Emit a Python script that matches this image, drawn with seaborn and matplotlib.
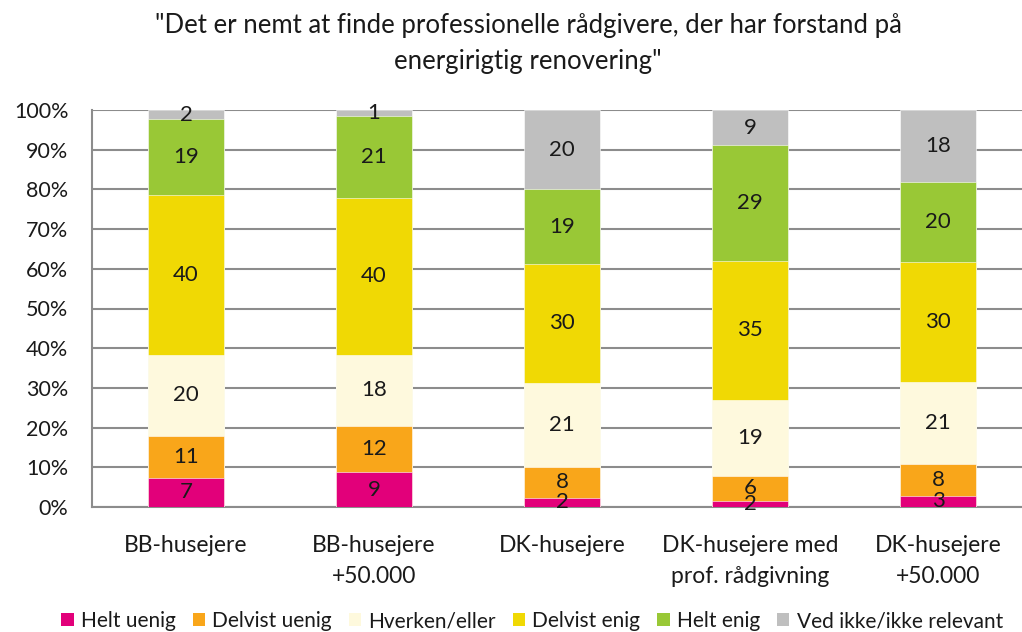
import numpy as np
import pandas as pd
import seaborn as sns
import matplotlib.pyplot as plt
from matplotlib.patches import Patch
from matplotlib.ticker import FixedLocator

# Kategorier og svarfordelinger (procent)
categories = ["BB-husejere", "BB-husejere\n+50.000", "DK-husejere",
              "DK-husejere med\nprof. rådgivning", "DK-husejere\n+50.000"]
answers = ["Helt uenig", "Delvist uenig", "Hverken/eller",
           "Delvist enig", "Helt enig", "Ved ikke/ikke relevant"]

helt_uenig = [7.4, 8.8, 2.3, 1.5, 2.8]
delvist_uenig = [10.6, 11.6, 7.8, 6.4, 8.0]
hverken_eller = [20.3, 17.9, 21.1, 19.1, 20.6]
delvist_enig = [40.4, 39.6, 30.1, 35.0, 30.3]
helt_enig = [19.0, 20.7, 18.7, 29.1, 20.2]
ved_ikke = [2.3, 1.4, 20.0, 8.9, 18.1]

colors = ["#E2007A", "#F9A61A", "#FEF9DD", "#F0D904", "#99C836", "#BFBFBF"]

title = '"Det er nemt at finde professionelle rådgivere, der har forstand på\nenergirigtig renovering"'

df = pd.DataFrame({
    answers[0]: helt_uenig,
    answers[1]: delvist_uenig,
    answers[2]: hverken_eller,
    answers[3]: delvist_enig,
    answers[4]: helt_enig,
    answers[5]: ved_ikke,
}, index=categories)
cum = df.cumsum(axis=1)

sns.set_style("white")
plt.rcParams['font.family'] = ['Lato', 'DejaVu Sans']
text_color = "#1a1a1a"
grid_color = "#8C8C8C"

fig = plt.figure(figsize=(10.22, 6.32), dpi=100)
ax = fig.add_axes([92 / 1022, 125 / 632, 940 / 1022, 397 / 632])

# stablede søjler: tegn kumulerede summer fra toppen og ned
for i in range(len(answers) - 1, -1, -1):
    sns.barplot(x=categories, y=cum[answers[i]].values, color=colors[i],
                width=0.4, saturation=1, edgecolor="white", linewidth=0.4,
                ax=ax, zorder=3)

# dataetiketter midt i hvert segment
for j, cat in enumerate(categories):
    for i, a in enumerate(answers):
        v = df.loc[cat, a]
        mid = cum.loc[cat, a] - v / 2
        ax.text(j, mid, f"{round(v)}", ha="center", va="center",
                fontsize=16, color=text_color, zorder=5)

ax.set_ylim(0, 100)
ax.set_xlim(-0.5, 4.5)
ax.set_yticks(np.arange(0, 101, 10))
ax.set_yticklabels([f"{t}%" for t in range(0, 101, 10)], fontsize=15.5, color=text_color)
ax.set_xticks(range(len(categories)))
ax.set_xticklabels(categories, fontsize=16.5, color=text_color, linespacing=1.6)
ax.xaxis.set_minor_locator(FixedLocator(np.arange(-0.5, 4.6, 1)))
ax.tick_params(axis="x", which="major", length=0, pad=20)
ax.tick_params(axis="x", which="minor", length=7, width=1.3, color=grid_color)
ax.tick_params(axis="y", length=7, width=1.3, color=grid_color, pad=10)
ax.set_ylabel("")
ax.set_xlabel("")

ax.yaxis.grid(True, color=grid_color, linewidth=1.5, zorder=0)
ax.set_axisbelow(True)
for s in ["top", "right"]:
    ax.spines[s].set_visible(False)
for s in ["left", "bottom"]:
    ax.spines[s].set_color(grid_color)
    ax.spines[s].set_linewidth(1.5)

fig.text(528 / 1022, 1 - 43 / 632, title, ha="center", va="center",
         fontsize=18.5, color=text_color, linespacing=1.55)

handles = [Patch(facecolor=c, edgecolor="none") for c in colors]
fig.legend(handles, answers, loc="center", bbox_to_anchor=(532 / 1022, 11 / 632),
           ncol=6, frameon=False, fontsize=15, handlelength=0.6, handleheight=0.6,
           handletextpad=0.35, columnspacing=0.8, labelcolor=text_color)

fig.savefig("out.png", dpi=100)
